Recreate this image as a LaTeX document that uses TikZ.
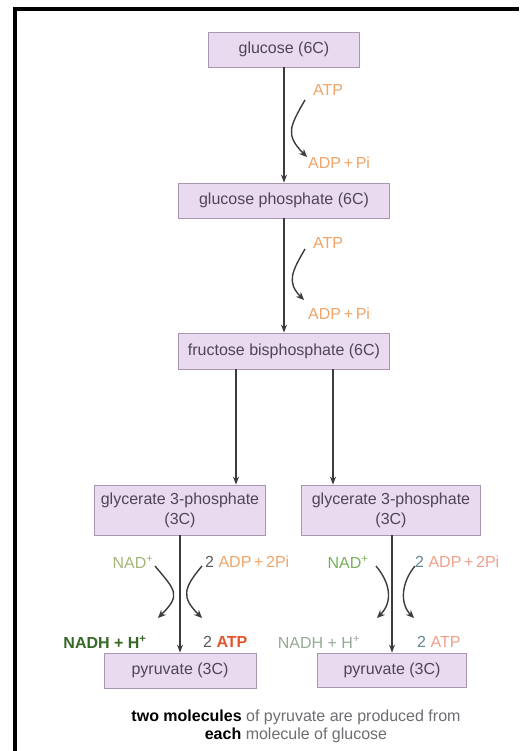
\documentclass[tikz,border=0pt]{standalone}
\usepackage{fontspec}
\setmainfont{Liberation Sans}
\usetikzlibrary{arrows.meta}

\definecolor{boxfill}{RGB}{234,218,239}
\definecolor{boxline}{RGB}{170,150,178}
\definecolor{boxtext}{RGB}{80,68,88}
\definecolor{linegray}{RGB}{60,60,64}
\definecolor{atporange}{RGB}{240,165,105}
\definecolor{atpred}{RGB}{228,85,45}
\definecolor{nadolive}{RGB}{165,182,120}
\definecolor{nadgreen}{RGB}{120,178,90}
\definecolor{nadhdark}{RGB}{55,105,40}
\definecolor{nadhgray}{RGB}{150,170,150}
\definecolor{numgray}{RGB}{90,90,95}
\definecolor{numblue}{RGB}{100,135,150}
\definecolor{adpsalmon}{RGB}{240,160,140}
\definecolor{notegray}{RGB}{110,110,115}

\begin{document}
\begin{tikzpicture}[x=1pt,y=1pt,
box/.style={
	rectangle,draw=boxline,fill=boxfill,line width=0.8pt,
	minimum height=35pt,inner sep=0pt,align=center,
	text=boxtext,font=\fontsize{16}{20}\selectfont},
tag/.style={inner sep=1pt,font=\fontsize{16}{19}\selectfont},
arr/.style={draw=linegray,line width=1.1pt,-{Stealth[length=8pt,width=6pt]}},
swing/.style={draw=linegray,line width=1.4pt,-{Stealth[length=8pt,width=7pt]}},
]
\fill[white] (0,0) rectangle (519,751);
\useasboundingbox (0,0) rectangle (519,751);
\draw[line width=4pt] (15,0) -- (15,742) -- (519,742);
% main chain
\node[box,minimum width=151pt] (glc) at (284,701.5) {glucose (6C)};
\node[box,minimum width=211pt] (gp) at (284,550.5) {glucose phosphate (6C)};
\node[box,minimum width=211pt,minimum height=36pt] (fbp) at (284,400) {fructose bisphosphate (6C)};
\node[box,minimum width=171pt,minimum height=50pt] (g3pL) at (180,241) {glycerate 3-phosphate\\(3C)};
\node[box,minimum width=179pt,minimum height=50pt] (g3pR) at (391,241) {glycerate 3-phosphate\\(3C)};
\node[box,minimum width=152pt] (pyrL) at (180,80.5) {pyruvate (3C)};
\node[box,minimum width=149pt,minimum height=34pt] (pyrR) at (392,81) {pyruvate (3C)};
\draw[arr] (glc) -- (gp);
\draw[arr] (gp) -- (fbp);
\draw[arr] ([xshift=-48pt]fbp.south) -- ([xshift=-48pt]fbp.south |- g3pL.north);
\draw[arr] ([xshift=49pt]fbp.south) -- ([xshift=49pt]fbp.south |- g3pR.north);
\draw[arr] (g3pL) -- (pyrL);
\draw[arr] (g3pR.south -| pyrR.north) -- (pyrR.north);
% side labels
\node[tag,anchor=west,text=atporange] (atpA) at (312,661) {ATP};
\node[tag,anchor=west,text=atporange] (adpA) at (307,588) {ADP\,+\,Pi};
\node[tag,anchor=west,text=atporange] (atpB) at (312,508) {ATP};
\node[tag,anchor=west,text=atporange] (adpB) at (307,437) {ADP\,+\,Pi};
\node[tag,text=nadolive] (nadL) at (133,189) {NAD\textsuperscript{+}};
\node[tag,anchor=west,text=numgray] (adpL) at (204,189) {2 \textcolor{atporange}{ADP\,+\,2Pi}};
\node[tag,text=nadhdark,font=\fontsize{16}{19}\selectfont\bfseries] (nadhL) at (105,109) {NADH + H\textsuperscript{+}};
\node[tag,anchor=west,text=numgray] (atpL) at (202,109) {2 \textcolor{atpred}{\textbf{ATP}}};
\node[tag,text=nadgreen] (nadR) at (348,189) {NAD\textsuperscript{+}};
\node[tag,anchor=west,text=numblue] (adpR) at (414,189) {2 \textcolor{adpsalmon}{ADP\,+\,2Pi}};
\node[tag,text=nadhgray] (nadhR) at (319,109) {NADH + H\textsuperscript{+}};
\node[tag,anchor=west,text=numblue] (atpR) at (416,109) {2 \textcolor{adpsalmon}{ATP}};
% curved arrows
\coordinate (sA) at (305,651); \coordinate (eA) at (307,594);
\coordinate (sB) at (305,502); \coordinate (eB) at (304,451);
\coordinate (sNL) at (155,185); \coordinate (eNL) at (158,133);
\coordinate (sAL) at (202,185); \coordinate (eAL) at (202,133);
\coordinate (sNR) at (376,185); \coordinate (eNR) at (377,133);
\coordinate (sAR) at (415,185); \coordinate (eAR) at (414,133);
\draw[swing] (sA) to[out=240,in=135,looseness=1.39] (eA);
\draw[swing] (sB) to[out=240,in=135,looseness=1.27] (eB);
\draw[swing] (sNL) to[out=-50,in=45,looseness=1.6] (eNL);
\draw[swing] (sAL) to[out=230,in=135,looseness=1.45] (eAL);
\draw[swing] (sNR) to[out=-50,in=45,looseness=1.11] (eNR);
\draw[swing] (sAR) to[out=230,in=135,looseness=1.02] (eAR);
% note
\node[align=center,text=notegray,font=\fontsize{16}{18}\selectfont] (note) at (296,25)
{\textcolor{black}{\textbf{two molecules}} of pyruvate are produced from\\\textcolor{black}{\textbf{each}} molecule of glucose};
\end{tikzpicture}
\end{document}
